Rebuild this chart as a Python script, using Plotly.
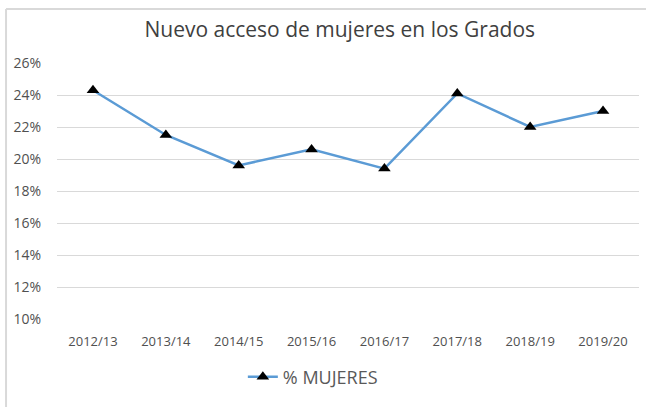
import plotly.graph_objects as go

# Curso académico y porcentaje de mujeres en el nuevo acceso
cursos = ["2012/13", "2013/14", "2014/15", "2015/16", "2016/17", "2017/18", "2018/19", "2019/20"]
pct_mujeres = [0.243, 0.215, 0.196, 0.206, 0.194, 0.241, 0.220, 0.230]
y_ticks = [0.10, 0.12, 0.14, 0.16, 0.18, 0.20, 0.22, 0.24, 0.26]

W, H = 646, 407
ml, mr, mt, mb = 57, 6.5, 63, 88
pw = W - ml - mr
ph = H - mt - mb


def px_x(p):
    return (p - ml) / pw


def px_y(p):
    return (H - mb - p) / ph


fig = go.Figure()
fig.add_trace(go.Scatter(
    x=cursos,
    y=pct_mujeres,
    mode="lines+markers",
    name="% MUJERES",
    line=dict(color="#5b9bd5", width=2.5),
    marker=dict(symbol="triangle-up", size=11, color="black"),
))

grey = "#d9d9d9"
fig.update_layout(
    width=W,
    height=H,
    margin=dict(l=ml, r=mr, t=mt, b=mb),
    paper_bgcolor="white",
    plot_bgcolor="white",
    font=dict(family="Open Sans", color="#595959", size=13),
    title=dict(
        text="Nuevo acceso de mujeres en los Grados",
        x=px_x(340), xref="paper", xanchor="center",
        y=1 - 30 / H, yanchor="middle",
        font=dict(family="Open Sans", size=21, color="#404040"),
    ),
    showlegend=True,
    legend=dict(
        orientation="h",
        x=px_x(243), xanchor="left",
        y=px_y(377), yanchor="middle",
        font=dict(size=18, color="#595959"),
        bgcolor="rgba(0,0,0,0)",
    ),
    xaxis=dict(
        type="category",
        showgrid=False,
        showline=False,
        zeroline=False,
        ticks="outside", ticklen=10, tickcolor="rgba(0,0,0,0)",
        tickfont=dict(size=13, color="#505050"),
    ),
    yaxis=dict(
        range=[0.10, 0.26],
        tickvals=y_ticks,
        tickformat=".0%",
        showgrid=True, gridcolor=grey, gridwidth=1,
        zeroline=False, showline=False,
        ticks="outside", ticklen=12, tickcolor="rgba(0,0,0,0)",
        tickfont=dict(size=14, color="#505050"),
    ),
    shapes=[
        dict(type="line", xref="paper", yref="paper",
             x0=px_x(6), x1=px_x(W + 5), y0=px_y(9), y1=px_y(9),
             line=dict(color=grey, width=2)),
        dict(type="line", xref="paper", yref="paper",
             x0=px_x(6), x1=px_x(6), y0=px_y(9), y1=px_y(H + 5),
             line=dict(color=grey, width=2)),
    ],
)

fig.write_html("out.html")
